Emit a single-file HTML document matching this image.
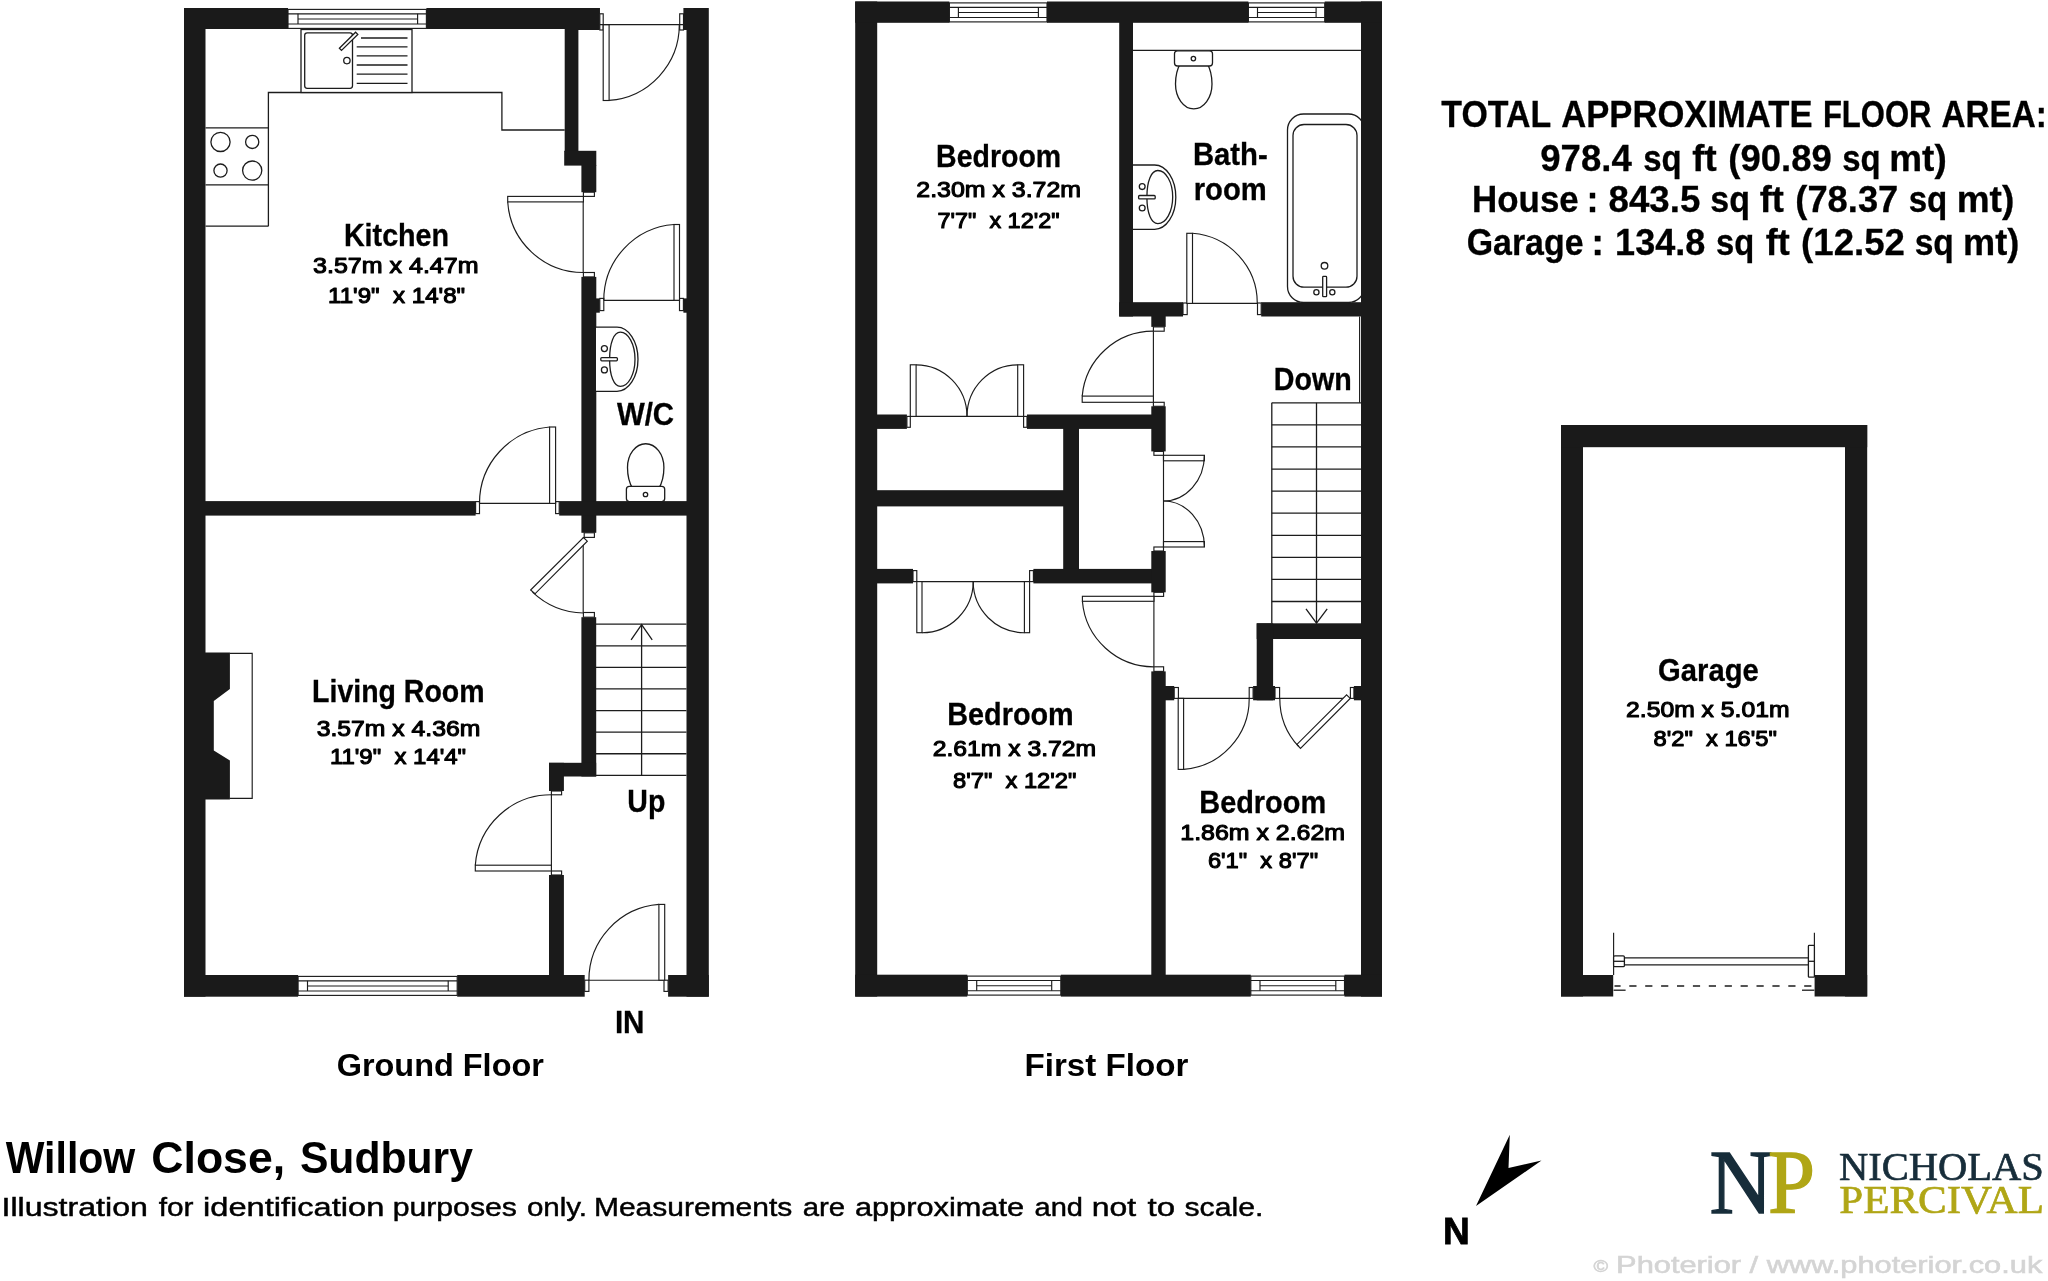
<!DOCTYPE html>
<html lang="en">
<head>
<meta charset="utf-8">
<title>Willow Close, Sudbury - Floor Plan</title>
<style>
html,body{margin:0;padding:0;background:#fff;}
body{width:2048px;height:1281px;overflow:hidden;position:relative;}
svg{display:block;position:absolute;left:0;top:0;will-change:transform;}
.w{fill:#1a1a1a;}
.l{fill:none;stroke:#1c1c1c;stroke-width:1.15;}
.k{fill:none;stroke:#1c1c1c;stroke-width:1.3;}
.f{fill:#fff;stroke:#1c1c1c;stroke-width:1.15;}
.fk{fill:#fff;stroke:#1c1c1c;stroke-width:1.3;}
text{font-family:"Liberation Sans",sans-serif;fill:#000;white-space:pre;}
.b{font-weight:bold;stroke:#000;stroke-width:0.3px;}
.m{font-weight:normal;stroke:#000;stroke-width:1.1px;stroke-linejoin:round;}
.g{font-weight:bold;}
.r{font-weight:normal;stroke:#000;stroke-width:0.45px;}
.wm{font-weight:normal;fill:#d4d4d4;stroke:#d4d4d4;stroke-width:0.6px;}
.gn{font-weight:bold;stroke:#000;stroke-width:0.8px;}
.hv{stroke-width:1.4px;}
.lt{stroke-width:0.7px;}
.s1{font-family:"Liberation Serif",serif;fill:#172d3a;stroke:#172d3a;}
.s2{font-family:"Liberation Serif",serif;fill:#b0a616;stroke:#b0a616;}
</style>
</head>
<body>
<svg width="2048" height="1281" viewBox="0 0 2048 1281">
<rect x="0" y="0" width="2048" height="1281" fill="#fff"/>

<g id="ground-floor">
<rect class="w" x="184" y="8" width="21.5" height="988.7"/>
<rect class="w" x="184" y="8" width="104" height="21"/>
<rect class="w" x="426.4" y="8" width="173.4" height="21"/>
<rect class="w" x="578" y="8" width="21.8" height="22"/>
<rect class="w" x="686.5" y="8" width="22.3" height="988.7"/>
<rect class="w" x="683.4" y="8" width="3.6" height="22"/>
<rect class="w" x="184" y="975" width="114.1" height="21.7"/>
<rect class="w" x="457.2" y="975" width="127.5" height="21.7"/>
<rect class="w" x="668.1" y="975" width="40.7" height="21.7"/>
<rect class="w" x="564.7" y="28" width="13.7" height="124"/>
<rect class="w" x="564.2" y="150.8" width="32.1" height="14.8"/>
<rect class="w" x="581.4" y="165" width="14.9" height="27.2"/>
<rect class="w" x="581.4" y="276.9" width="14.9" height="255.9"/>
<rect class="w" x="596" y="298.4" width="3.8" height="14.3"/>
<rect class="w" x="683.4" y="298.4" width="3.6" height="14.3"/>
<rect class="w" x="205" y="501.1" width="270.6" height="14.5"/>
<rect class="w" x="559.2" y="501.1" width="127.8" height="14.5"/>
<rect class="w" x="581.4" y="617.2" width="14.8" height="159.3"/>
<rect class="w" x="549" y="762.8" width="47.2" height="13.7"/>
<rect class="w" x="549" y="762.8" width="14.9" height="28.2"/>
<rect class="w" x="549" y="875" width="14.9" height="101"/>
<path class="w" d="M205 652.5H229.9V689L213.8 701V750.6L229.9 760.5V799.4H205Z"/>
<path class="l" d="M229.7 653.4H252.2V798.3H229.7"/>
<rect class="f" x="288" y="9.4" width="138.4" height="19"/>
<line class="l" x1="288" y1="13.8" x2="426.4" y2="13.8"/>
<line class="l" x1="288" y1="24" x2="426.4" y2="24"/>
<line class="l" x1="298" y1="13.8" x2="298" y2="24"/>
<line class="l" x1="417.6" y1="13.8" x2="417.6" y2="24"/>
<line class="l" x1="298" y1="19" x2="417.6" y2="19"/>
<rect class="f" x="298.1" y="976.4" width="159.1" height="19"/>
<line class="l" x1="298.1" y1="980.8" x2="457.2" y2="980.8"/>
<line class="l" x1="298.1" y1="991" x2="457.2" y2="991"/>
<line class="l" x1="307.5" y1="980.8" x2="307.5" y2="991"/>
<line class="l" x1="448.2" y1="980.8" x2="448.2" y2="991"/>
<line class="l" x1="307.5" y1="986" x2="448.2" y2="986"/>
<path class="k" d="M268.4 226.2V92.5H501.9V130H564.7"/>
<line class="k" x1="205.5" y1="226.2" x2="268.4" y2="226.2"/>
<line class="k" x1="205.5" y1="127.8" x2="268.4" y2="127.8"/>
<line class="k" x1="205.5" y1="184.9" x2="268.4" y2="184.9"/>
<circle class="k" cx="220.5" cy="141.9" r="9.6"/>
<circle class="k" cx="252.2" cy="141.9" r="6.6"/>
<circle class="k" cx="220.5" cy="170.6" r="6.6"/>
<circle class="k" cx="252.2" cy="170.6" r="9.6"/>
<rect class="fk" x="301" y="29.5" width="111" height="63"/>
<rect class="k" x="304.7" y="32.8" width="47.8" height="55.5" rx="2.5"/>
<line class="k" x1="361" y1="38" x2="407.5" y2="38"/>
<line class="k" x1="356.7" y1="46.9" x2="407.5" y2="46.9"/>
<line class="k" x1="356.7" y1="55.9" x2="407.5" y2="55.9"/>
<line class="k" x1="356.7" y1="65" x2="407.5" y2="65"/>
<line class="k" x1="356.7" y1="74.2" x2="407.5" y2="74.2"/>
<line class="k" x1="356.7" y1="83.3" x2="407.5" y2="83.3"/>
<circle class="k" cx="346.9" cy="60.6" r="3.2"/>
<path class="fk" d="M339.4 48.2L355.6 32.2L357.8 34.4L341.5 50.4Z"/>
<rect class="f" x="599.8" y="13.8" width="3.4" height="16.2"/>
<rect class="f" x="679.7" y="13.8" width="3.8" height="16.2"/>
<rect class="f" x="603.2" y="24.6" width="5.9" height="75.9"/>
<line class="l" x1="599.8" y1="24.6" x2="683.5" y2="24.6"/>
<path class="l" d="M609.1 100.4A75.8 75.8 0 0 0 679.3 24.6"/>
<line class="l" x1="583.2" y1="196.4" x2="583.2" y2="272.5"/>
<rect class="f" x="583.4" y="192.2" width="11" height="4.2"/>
<rect class="f" x="583.4" y="272.5" width="11" height="4.4"/>
<rect class="f" x="507.7" y="196.4" width="75.7" height="5.5"/>
<path class="l" d="M507.7 201.9A75.7 75.7 0 0 0 583.4 272.5"/>
<line class="l" x1="603.8" y1="300.3" x2="679.5" y2="300.3"/>
<rect class="f" x="599.8" y="298.4" width="4" height="12.2"/>
<rect class="f" x="679.5" y="298.4" width="3.9" height="12.2"/>
<rect class="f" x="674" y="224.5" width="5.5" height="75.8"/>
<path class="l" d="M674 224.5A75.8 75.8 0 0 0 603.8 300.3"/>
<line class="l" x1="479.5" y1="503.4" x2="555.6" y2="503.4"/>
<rect class="f" x="475.6" y="501.6" width="3.9" height="12"/>
<rect class="f" x="555.6" y="501.6" width="3.6" height="12"/>
<rect class="f" x="549.6" y="427" width="6" height="76.4"/>
<path class="l" d="M549.6 427A76.4 76.4 0 0 0 479.5 503.4"/>
<line class="l" x1="583.2" y1="537.4" x2="583.2" y2="612.5"/>
<rect class="f" x="584.2" y="532.8" width="10.2" height="4.6"/>
<rect class="f" x="583.4" y="612.5" width="11" height="4.7"/>
<path class="f" d="M583.4 537.5L587.3 541.2L535 593.8L530.6 590Z"/>
<path class="l" d="M532.5 592.2A76 76 0 0 0 583.4 613"/>
<line class="l" x1="551.4" y1="794.8" x2="551.4" y2="871"/>
<rect class="f" x="551.4" y="791" width="10.2" height="3.8"/>
<rect class="f" x="551.4" y="871" width="10.2" height="4"/>
<rect class="f" x="475.3" y="865.2" width="76.1" height="5.8"/>
<path class="l" d="M551.4 794.8A76.1 76.1 0 0 0 475.3 865.2"/>
<line class="l" x1="588.9" y1="980.2" x2="664" y2="980.2"/>
<rect class="f" x="584.7" y="980.2" width="4.2" height="11.2"/>
<rect class="f" x="664" y="980.2" width="4.1" height="11.2"/>
<rect class="f" x="658.9" y="904.4" width="5.8" height="75.8"/>
<path class="l" d="M658.9 904.4A75.8 75.8 0 0 0 588.9 980.2"/>
<path class="fk" d="M596 327.2H617A21 32.05 0 0 1 617 391.3H596"/>
<path class="k" d="M620.3 332.2C628.4 332.2 635 344.3 635 359.3C635 374.3 628.4 386.4 620.3 386.4C614 386.4 609.6 376 609.6 359.3C609.6 342.6 614 332.2 620.3 332.2Z"/>
<circle class="k" cx="604.4" cy="348.6" r="3"/>
<circle class="k" cx="604.4" cy="369.9" r="3"/>
<rect class="fk" x="600.8" y="357.6" width="16.6" height="3.2" rx="1"/>
<path class="fk" d="M627.5 467.5A18.2 23.75 0 0 1 663.9 467.5A18.2 30.3 0 0 1 627.5 467.5Z"/>
<rect class="fk" x="626.4" y="486.3" width="38.3" height="15.3" rx="3"/>
<circle class="k" cx="645.5" cy="494.5" r="2.2"/>
<line class="k" x1="596" y1="624.2" x2="686.5" y2="624.2"/>
<line class="k" x1="596" y1="645.79" x2="686.5" y2="645.79"/>
<line class="k" x1="596" y1="667.38" x2="686.5" y2="667.38"/>
<line class="k" x1="596" y1="688.97" x2="686.5" y2="688.97"/>
<line class="k" x1="596" y1="710.56" x2="686.5" y2="710.56"/>
<line class="k" x1="596" y1="732.15" x2="686.5" y2="732.15"/>
<line class="k" x1="596" y1="753.74" x2="686.5" y2="753.74"/>
<line class="k" x1="596" y1="775.33" x2="686.5" y2="775.33"/>
<line class="k" x1="641.6" y1="624.5" x2="641.6" y2="775.3"/>
<path class="k" d="M631.1 639.8L641.6 624.6L652.2 639.8"/>
</g>
<g id="first-floor">
<rect class="w" x="855.2" y="1.5" width="22" height="995.1"/>
<rect class="w" x="1361" y="1.5" width="21" height="995.1"/>
<rect class="w" x="855.2" y="1.5" width="94.2" height="21.3"/>
<rect class="w" x="1047" y="1.5" width="201.4" height="21.3"/>
<rect class="w" x="1324.7" y="1.5" width="57.3" height="21.3"/>
<rect class="w" x="855.2" y="974.7" width="112.1" height="21.9"/>
<rect class="w" x="1060.8" y="974.7" width="190" height="21.9"/>
<rect class="w" x="1344.5" y="974.7" width="37.5" height="21.9"/>
<rect class="w" x="1119.2" y="22" width="13.8" height="294.5"/>
<rect class="w" x="1119.2" y="302.2" width="63.8" height="14.3"/>
<rect class="w" x="1261.2" y="302.2" width="100.8" height="14.3"/>
<rect class="w" x="1151.3" y="316" width="14.4" height="10.9"/>
<rect class="w" x="1151.3" y="406.3" width="14.4" height="45.1"/>
<rect class="w" x="876" y="414.5" width="30.9" height="14.4"/>
<rect class="w" x="1027" y="414.5" width="125" height="14.4"/>
<rect class="w" x="1063.2" y="428" width="15.8" height="142"/>
<rect class="w" x="876" y="490.2" width="188" height="16.2"/>
<rect class="w" x="876" y="568.9" width="37" height="14.5"/>
<rect class="w" x="1033.4" y="568.9" width="118.6" height="14.5"/>
<rect class="w" x="1151.3" y="551" width="14.4" height="41.3"/>
<rect class="w" x="1151.3" y="671.4" width="14.4" height="304.6"/>
<rect class="w" x="1165" y="686" width="9.2" height="14.3"/>
<rect class="w" x="1256.7" y="623.3" width="105.3" height="15.7"/>
<rect class="w" x="1256.7" y="623.3" width="16.4" height="77"/>
<rect class="w" x="1253.1" y="686" width="21.9" height="14.3"/>
<rect class="w" x="1353.9" y="686" width="8.1" height="14.3"/>
<rect class="f" x="949.4" y="2.9" width="97.6" height="19"/>
<line class="l" x1="949.4" y1="7.3" x2="1047" y2="7.3"/>
<line class="l" x1="949.4" y1="17.5" x2="1047" y2="17.5"/>
<line class="l" x1="958.4" y1="7.3" x2="958.4" y2="17.5"/>
<line class="l" x1="1038.4" y1="7.3" x2="1038.4" y2="17.5"/>
<line class="l" x1="958.4" y1="12.5" x2="1038.4" y2="12.5"/>
<rect class="f" x="1248.4" y="2.9" width="76.3" height="19"/>
<line class="l" x1="1248.4" y1="7.3" x2="1324.7" y2="7.3"/>
<line class="l" x1="1248.4" y1="17.5" x2="1324.7" y2="17.5"/>
<line class="l" x1="1257.5" y1="7.3" x2="1257.5" y2="17.5"/>
<line class="l" x1="1316.1" y1="7.3" x2="1316.1" y2="17.5"/>
<line class="l" x1="1257.5" y1="12.5" x2="1316.1" y2="12.5"/>
<rect class="f" x="967.3" y="976.1" width="93.5" height="19"/>
<line class="l" x1="967.3" y1="980.5" x2="1060.8" y2="980.5"/>
<line class="l" x1="967.3" y1="990.7" x2="1060.8" y2="990.7"/>
<line class="l" x1="976.7" y1="980.5" x2="976.7" y2="990.7"/>
<line class="l" x1="1051.7" y1="980.5" x2="1051.7" y2="990.7"/>
<line class="l" x1="976.7" y1="985.7" x2="1051.7" y2="985.7"/>
<rect class="f" x="1250.8" y="976.1" width="93.7" height="19"/>
<line class="l" x1="1250.8" y1="980.5" x2="1344.5" y2="980.5"/>
<line class="l" x1="1250.8" y1="990.7" x2="1344.5" y2="990.7"/>
<line class="l" x1="1260" y1="980.5" x2="1260" y2="990.7"/>
<line class="l" x1="1335.8" y1="980.5" x2="1335.8" y2="990.7"/>
<line class="l" x1="1260" y1="985.7" x2="1335.8" y2="985.7"/>
<line class="k" x1="1133" y1="50.3" x2="1361" y2="50.3"/>
<path class="fk" d="M1175.5 84A18.25 30.3 0 0 1 1212 84A18.25 24.9 0 0 1 1175.5 84Z"/>
<rect class="fk" x="1174.5" y="50.8" width="38" height="15.2" rx="3"/>
<circle class="k" cx="1193.4" cy="58.6" r="2.2"/>
<path class="fk" d="M1133 165H1154.6A21.2 32.2 0 0 1 1154.6 229.4H1133"/>
<path class="k" d="M1157.8 170.5C1166 170.5 1172.7 182.4 1172.7 197.1C1172.7 211.8 1166 223.6 1157.8 223.6C1151.4 223.6 1146.9 213.5 1146.9 197.1C1146.9 180.7 1151.4 170.5 1157.8 170.5Z"/>
<circle class="k" cx="1142.2" cy="186.6" r="2.9"/>
<circle class="k" cx="1142.2" cy="208" r="2.9"/>
<rect class="fk" x="1138.6" y="195.5" width="16.6" height="3.4" rx="1"/>
<rect class="fk" x="1287.5" y="114" width="77" height="188.5" rx="16"/>
<rect class="w" x="1361" y="100" width="21" height="220"/>
<rect class="k" x="1293" y="124.5" width="64" height="162.7" rx="11"/>
<circle class="k" cx="1324.5" cy="265.8" r="3.3"/>
<circle class="k" cx="1316.4" cy="292.3" r="2.6"/>
<circle class="k" cx="1332.3" cy="292.3" r="2.6"/>
<rect class="fk" x="1322.7" y="276.4" width="3.9" height="20.3" rx="0.8"/>
<line class="l" x1="1187.2" y1="303.4" x2="1257.5" y2="303.4"/>
<rect class="f" x="1183" y="303" width="4.2" height="11.6"/>
<rect class="f" x="1257.5" y="303" width="3.7" height="11.6"/>
<rect class="f" x="1186.8" y="233.3" width="5.7" height="70.1"/>
<path class="l" d="M1192.5 233.3A70.1 70.1 0 0 1 1257.3 303.4"/>
<line class="l" x1="1153.4" y1="331.2" x2="1153.4" y2="402.3"/>
<rect class="f" x="1153.4" y="326.9" width="10.8" height="4.3"/>
<rect class="f" x="1153.4" y="402.3" width="10.8" height="4"/>
<rect class="f" x="1082.2" y="396.1" width="71.2" height="6.2"/>
<path class="l" d="M1153.4 331.2A71.2 71.2 0 0 0 1082.2 396.1"/>
<line class="l" x1="910.3" y1="416.4" x2="1023.6" y2="416.4"/>
<rect class="f" x="906.9" y="416.4" width="3.4" height="10.9"/>
<rect class="f" x="1023.6" y="416.4" width="3.4" height="10.9"/>
<rect class="f" x="910.3" y="364.8" width="5.8" height="51.6"/>
<rect class="f" x="1017.7" y="364.8" width="5.9" height="51.6"/>
<path class="l" d="M916.1 364.8A50.9 51.6 0 0 1 967 416.4"/>
<path class="l" d="M1017.7 364.8A50.7 51.6 0 0 0 967 416.4"/>
<line class="l" x1="916.8" y1="581.6" x2="1029.6" y2="581.6"/>
<rect class="f" x="913" y="570.6" width="3.8" height="11"/>
<rect class="f" x="1029.6" y="570.6" width="3.8" height="11"/>
<rect class="f" x="916.8" y="581.6" width="5.2" height="51.1"/>
<rect class="f" x="1024.4" y="581.6" width="5.2" height="51.1"/>
<path class="l" d="M922 632.7A51.2 51.1 0 0 0 973.2 581.6"/>
<path class="l" d="M1024.4 632.7A51.2 51.1 0 0 1 973.2 581.6"/>
<line class="l" x1="1163.5" y1="455.3" x2="1163.5" y2="547"/>
<rect class="f" x="1153.9" y="451.4" width="9.6" height="3.9"/>
<rect class="f" x="1153.9" y="547" width="9.6" height="4"/>
<rect class="f" x="1163.5" y="455.3" width="40.9" height="5.5"/>
<rect class="f" x="1163.5" y="541.6" width="40.9" height="5.4"/>
<path class="l" d="M1204.4 455.3A40.9 45.7 0 0 1 1163.5 501"/>
<path class="l" d="M1204.4 547A40.9 46 0 0 0 1163.5 501"/>
<line class="l" x1="1153.9" y1="596.4" x2="1153.9" y2="666.8"/>
<rect class="f" x="1153.9" y="592.3" width="9.7" height="4.1"/>
<rect class="f" x="1153.9" y="666.8" width="9.7" height="4.6"/>
<rect class="f" x="1082.4" y="596.3" width="71.5" height="5"/>
<path class="l" d="M1082.4 601.3A71.5 71.5 0 0 0 1153.9 666.8"/>
<line class="l" x1="1178.4" y1="698.4" x2="1249.2" y2="698.4"/>
<rect class="f" x="1174.2" y="687.5" width="4.2" height="10.9"/>
<rect class="f" x="1249.2" y="687.5" width="3.9" height="10.9"/>
<rect class="f" x="1178.2" y="698.4" width="5.4" height="71"/>
<path class="l" d="M1183.6 769.4A71 71 0 0 0 1249.2 698.4"/>
<line class="l" x1="1279.6" y1="698.4" x2="1350.4" y2="698.4"/>
<rect class="f" x="1275" y="687.5" width="4.6" height="10.9"/>
<rect class="f" x="1350.4" y="687.5" width="3.5" height="10.9"/>
<path class="f" d="M1346.6 694.8L1350.2 698.4L1300.5 748.4L1296.9 744.4Z"/>
<path class="l" d="M1279.8 698.4A70 70 0 0 0 1298.6 746.4"/>
<line class="l" x1="1359.6" y1="316.5" x2="1359.6" y2="402.8"/>
<line class="k" x1="1271.8" y1="402.8" x2="1271.8" y2="623.5"/>
<line class="k" x1="1271.8" y1="402.8" x2="1361" y2="402.8"/>
<line class="k" x1="1271.8" y1="424.88" x2="1361" y2="424.88"/>
<line class="k" x1="1271.8" y1="446.96" x2="1361" y2="446.96"/>
<line class="k" x1="1271.8" y1="469.04" x2="1361" y2="469.04"/>
<line class="k" x1="1271.8" y1="491.12" x2="1361" y2="491.12"/>
<line class="k" x1="1271.8" y1="513.2" x2="1361" y2="513.2"/>
<line class="k" x1="1271.8" y1="535.28" x2="1361" y2="535.28"/>
<line class="k" x1="1271.8" y1="557.36" x2="1361" y2="557.36"/>
<line class="k" x1="1271.8" y1="579.44" x2="1361" y2="579.44"/>
<line class="k" x1="1271.8" y1="601.52" x2="1361" y2="601.52"/>
<line class="k" x1="1316.5" y1="402.8" x2="1316.5" y2="623"/>
<path class="k" d="M1306 608.8L1316.5 623.2L1327.2 608.8"/>
</g>
<g id="garage">
<rect class="w" x="1561" y="425" width="22" height="571.5"/>
<rect class="w" x="1845" y="425" width="22.2" height="571.5"/>
<rect class="w" x="1561" y="425" width="306.2" height="22.2"/>
<rect class="w" x="1561" y="975" width="52.2" height="21.5"/>
<rect class="w" x="1814.6" y="975" width="52.6" height="21.5"/>
<line class="l" x1="1613.6" y1="932.7" x2="1613.6" y2="975"/>
<line class="l" x1="1814.4" y1="932.7" x2="1814.4" y2="975"/>
<line class="k" x1="1624.4" y1="957.9" x2="1808.4" y2="957.9"/>
<line class="k" x1="1624.4" y1="964.9" x2="1808.4" y2="964.9"/>
<rect class="fk" x="1613.6" y="955.9" width="10.8" height="10.8" rx="1.2"/>
<line class="k" x1="1613.6" y1="961.3" x2="1624.4" y2="961.3"/>
<rect class="fk" x="1808.4" y="945.4" width="6" height="31.8" rx="0.8"/>
<line class="k" x1="1808.4" y1="961.3" x2="1814.4" y2="961.3"/>
<line x1="1614.5" y1="986" x2="1813.5" y2="986" stroke="#1c1c1c" stroke-width="1.3" stroke-dasharray="7.2 8.7" stroke-dashoffset="1.1"/>
<line class="k" x1="1613.6" y1="990.2" x2="1625.6" y2="990.2"/>
<line class="k" x1="1802" y1="990.2" x2="1814.4" y2="990.2"/>
</g>
<g id="labels">
<text class="b fit" x="343.9" y="246.4" font-size="30.6" textLength="105.2" lengthAdjust="spacingAndGlyphs">Kitchen</text>
<text class="m fit" x="313.1" y="273" font-size="22.6" textLength="165.4" lengthAdjust="spacingAndGlyphs">3.57m x 4.47m</text>
<text class="m fit" x="328.1" y="303.4" font-size="22.6" textLength="137" lengthAdjust="spacingAndGlyphs">11'9"  x 14'8"</text>
<text class="b fit" x="312.1" y="701.6" font-size="30.6" textLength="172.4" lengthAdjust="spacingAndGlyphs">Living Room</text>
<text class="m fit" x="316.7" y="736.4" font-size="22.6" textLength="163.6" lengthAdjust="spacingAndGlyphs">3.57m x 4.36m</text>
<text class="m fit" x="329.9" y="763.7" font-size="22.6" textLength="136.2" lengthAdjust="spacingAndGlyphs">11'9"  x 14'4"</text>
<text class="b fit" x="616.9" y="425.3" font-size="30.6" textLength="57.2" lengthAdjust="spacingAndGlyphs">W/C</text>
<text class="b fit" x="627.3" y="812" font-size="30.6" textLength="38" lengthAdjust="spacingAndGlyphs">Up</text>
<text class="b fit" x="614.9" y="1032.8" font-size="30.6" textLength="29.6" lengthAdjust="spacingAndGlyphs">IN</text>
<text class="b fit" x="936.1" y="166.7" font-size="30.6" textLength="125" lengthAdjust="spacingAndGlyphs">Bedroom</text>
<text class="m fit" x="916.3" y="197" font-size="22.6" textLength="164.8" lengthAdjust="spacingAndGlyphs">2.30m x 3.72m</text>
<text class="m fit" x="937.5" y="227.9" font-size="22.6" textLength="122" lengthAdjust="spacingAndGlyphs">7'7"  x 12'2"</text>
<text class="b fit" x="1192.9" y="164.6" font-size="30.6" textLength="74.8" lengthAdjust="spacingAndGlyphs">Bath-</text>
<text class="b fit" x="1193.7" y="200.2" font-size="30.6" textLength="73" lengthAdjust="spacingAndGlyphs">room</text>
<text class="b fit" x="1273.7" y="389.8" font-size="30.6" textLength="78" lengthAdjust="spacingAndGlyphs">Down</text>
<text class="b fit" x="947.3" y="724.7" font-size="30.6" textLength="126.4" lengthAdjust="spacingAndGlyphs">Bedroom</text>
<text class="m fit" x="932.7" y="755.5" font-size="22.6" textLength="163.4" lengthAdjust="spacingAndGlyphs">2.61m x 3.72m</text>
<text class="m fit" x="953.1" y="787.5" font-size="22.6" textLength="123.2" lengthAdjust="spacingAndGlyphs">8'7"  x 12'2"</text>
<text class="b fit" x="1199.3" y="812.5" font-size="30.6" textLength="126.8" lengthAdjust="spacingAndGlyphs">Bedroom</text>
<text class="m fit" x="1180.3" y="840" font-size="22.6" textLength="164.8" lengthAdjust="spacingAndGlyphs">1.86m x 2.62m</text>
<text class="m fit" x="1207.9" y="867.5" font-size="22.6" textLength="110.2" lengthAdjust="spacingAndGlyphs">6'1"  x 8'7"</text>
<text class="b fit" x="1658.1" y="680.6" font-size="30.6" textLength="100.6" lengthAdjust="spacingAndGlyphs">Garage</text>
<text class="m fit" x="1626.1" y="716.5" font-size="22.6" textLength="163.4" lengthAdjust="spacingAndGlyphs">2.50m x 5.01m</text>
<text class="m fit" x="1653.5" y="745.5" font-size="22.6" textLength="123.4" lengthAdjust="spacingAndGlyphs">8'2"  x 16'5"</text>
<text class="b" y="126.9" font-size="36"><tspan class="fit" x="1441.3" textLength="109.2" lengthAdjust="spacingAndGlyphs">TOTAL</tspan> <tspan class="fit" x="1561.3" textLength="251.2" lengthAdjust="spacingAndGlyphs">APPROXIMATE</tspan> <tspan class="fit" x="1822.9" textLength="108.6" lengthAdjust="spacingAndGlyphs">FLOOR</tspan> <tspan class="fit" x="1941.5" textLength="105.4" lengthAdjust="spacingAndGlyphs">AREA:</tspan></text>
<text class="b" y="170.5" font-size="36"><tspan class="fit" x="1540.3" textLength="91.4" lengthAdjust="spacingAndGlyphs">978.4</tspan> <tspan class="fit" x="1643.3" textLength="38.4" lengthAdjust="spacingAndGlyphs">sq</tspan> <tspan class="fit" x="1692.3" textLength="24.4" lengthAdjust="spacingAndGlyphs">ft</tspan> <tspan class="fit" x="1728.3" textLength="103.4" lengthAdjust="spacingAndGlyphs">(90.89</tspan> <tspan class="fit" x="1842.3" textLength="38.4" lengthAdjust="spacingAndGlyphs">sq</tspan> <tspan class="fit" x="1889.3" textLength="57.4" lengthAdjust="spacingAndGlyphs">mt)</tspan></text>
<text class="b" y="211.9" font-size="36"><tspan class="fit" x="1472.1" textLength="106.6" lengthAdjust="spacingAndGlyphs">House</tspan> <tspan class="fit" x="1586.5" textLength="12" lengthAdjust="spacingAndGlyphs">:</tspan> <tspan class="fit" x="1608.5" textLength="91.8" lengthAdjust="spacingAndGlyphs">843.5</tspan> <tspan class="fit" x="1710.3" textLength="39.6" lengthAdjust="spacingAndGlyphs">sq</tspan> <tspan class="fit" x="1759.7" textLength="24.2" lengthAdjust="spacingAndGlyphs">ft</tspan> <tspan class="fit" x="1795.3" textLength="103" lengthAdjust="spacingAndGlyphs">(78.37</tspan> <tspan class="fit" x="1908.7" textLength="38.6" lengthAdjust="spacingAndGlyphs">sq</tspan> <tspan class="fit" x="1956.7" textLength="57.6" lengthAdjust="spacingAndGlyphs">mt)</tspan></text>
<text class="b" y="255.4" font-size="36"><tspan class="fit" x="1466.7" textLength="116.8" lengthAdjust="spacingAndGlyphs">Garage</tspan> <tspan class="fit" x="1591.3" textLength="12.8" lengthAdjust="spacingAndGlyphs">:</tspan> <tspan class="fit" x="1615.1" textLength="90.2" lengthAdjust="spacingAndGlyphs">134.8</tspan> <tspan class="fit" x="1716.1" textLength="38.2" lengthAdjust="spacingAndGlyphs">sq</tspan> <tspan class="fit" x="1765.7" textLength="24" lengthAdjust="spacingAndGlyphs">ft</tspan> <tspan class="fit" x="1801.1" textLength="103.8" lengthAdjust="spacingAndGlyphs">(12.52</tspan> <tspan class="fit" x="1914.7" textLength="39.2" lengthAdjust="spacingAndGlyphs">sq</tspan> <tspan class="fit" x="1963.1" textLength="56.2" lengthAdjust="spacingAndGlyphs">mt)</tspan></text>
<text class="g fit" x="336.7" y="1076.1" font-size="31.4" textLength="207.2" lengthAdjust="spacingAndGlyphs">Ground Floor</text>
<text class="g fit" x="1024.5" y="1076.1" font-size="31.4" textLength="163.8" lengthAdjust="spacingAndGlyphs">First Floor</text>
<text class="g" y="1173" font-size="44"><tspan class="fit" x="5.7" textLength="129.6" lengthAdjust="spacingAndGlyphs">Willow</tspan> <tspan class="fit" x="151.3" textLength="133.8" lengthAdjust="spacingAndGlyphs">Close,</tspan> <tspan class="fit" x="299.9" textLength="173" lengthAdjust="spacingAndGlyphs">Sudbury</tspan></text>
<text class="r" y="1216.4" font-size="25.6"><tspan class="fit" x="1.5" textLength="146.4" lengthAdjust="spacingAndGlyphs">Illustration</tspan> <tspan class="fit" x="158.7" textLength="34.8" lengthAdjust="spacingAndGlyphs">for</tspan> <tspan class="fit" x="203.1" textLength="181.2" lengthAdjust="spacingAndGlyphs">identification</tspan> <tspan class="fit" x="392.7" textLength="124.2" lengthAdjust="spacingAndGlyphs">purposes</tspan> <tspan class="fit" x="526.9" textLength="60.2" lengthAdjust="spacingAndGlyphs">only.</tspan> <tspan class="fit" x="593.9" textLength="198.4" lengthAdjust="spacingAndGlyphs">Measurements</tspan> <tspan class="fit" x="802.7" textLength="42.4" lengthAdjust="spacingAndGlyphs">are</tspan> <tspan class="fit" x="854.9" textLength="169.2" lengthAdjust="spacingAndGlyphs">approximate</tspan> <tspan class="fit" x="1034.5" textLength="48.4" lengthAdjust="spacingAndGlyphs">and</tspan> <tspan class="fit" x="1091.7" textLength="44.4" lengthAdjust="spacingAndGlyphs">not</tspan> <tspan class="fit" x="1147.5" textLength="27.6" lengthAdjust="spacingAndGlyphs">to</tspan> <tspan class="fit" x="1184.5" textLength="78.8" lengthAdjust="spacingAndGlyphs">scale.</tspan></text>
<path fill="#000" d="M1509.8 1134.7L1508.5 1167.9L1541.5 1160.6L1476 1205.9Z"/>
<text class="gn fit" x="1442.9" y="1243.5" font-size="37.5" textLength="26.8" lengthAdjust="spacingAndGlyphs">N</text>
<text class="s1 hv fit" x="1709.5" y="1213.3" font-size="91" textLength="63.2" lengthAdjust="spacingAndGlyphs">N</text>
<text class="s2 hv fit" x="1767.9" y="1213.3" font-size="91" textLength="47" lengthAdjust="spacingAndGlyphs">P</text>
<text class="s1 lt fit" x="1838.9" y="1180.3" font-size="40.6" textLength="205" lengthAdjust="spacingAndGlyphs">NICHOLAS</text>
<text class="s2 lt fit" x="1839.3" y="1213" font-size="40.6" textLength="204.6" lengthAdjust="spacingAndGlyphs">PERCIVAL</text>
<text class="wm fit" x="1593.5" y="1271.5" font-size="16" textLength="14.6" lengthAdjust="spacingAndGlyphs">©</text>
<text class="wm fit" x="1616.1" y="1273" font-size="24.5" textLength="426.2" lengthAdjust="spacingAndGlyphs">Photerior / www.photerior.co.uk</text>
</g>
</svg>
</body>
</html>
